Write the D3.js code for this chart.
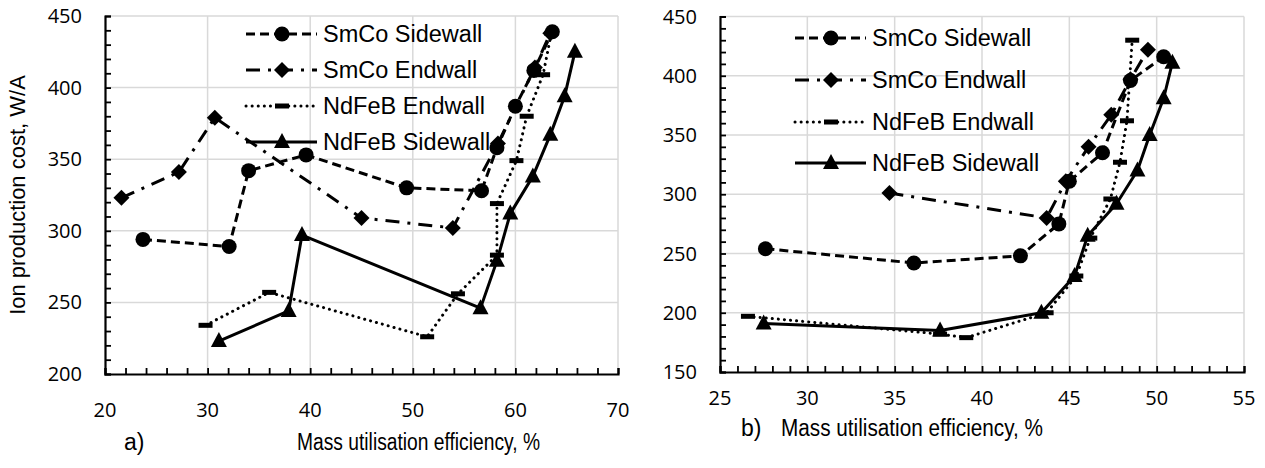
<!DOCTYPE html>
<html><head><meta charset="utf-8">
<script src="https://cdn.jsdelivr.net/npm/d3@7"></script>
<style>body{margin:0;background:#fff}svg{display:block}</style>
</head><body><svg id="c" width="1265" height="468"></svg>
<script>
const seriesNames = ["SmCo Sidewall", "SmCo Endwall", "NdFeB Endwall", "NdFeB Sidewall"];

// Panel a)
const aXTicks = [20, 30, 40, 50, 60, 70];
const aYTicks = [200, 250, 300, 350, 400, 450];
const aSmCoSideX = [23.7, 32.1, 34.0, 39.6, 49.4, 56.7, 58.2, 60.0, 61.8, 63.6];
const aSmCoSideY = [294, 289, 342, 353, 330, 328, 358, 387, 412, 439];
const aSmCoEndX = [21.6, 27.2, 30.7, 45.0, 53.9, 58.3, 61.9, 63.4];
const aSmCoEndY = [323, 341, 379, 309, 302, 361, 414, 438];
const aNdEndX = [29.8, 36.0, 51.4, 54.4, 58.2, 58.2, 60.1, 61.1, 62.7, 63.5];
const aNdEndY = [234, 257, 226, 256, 283, 319, 349, 380, 409, 438];
const aNdSideX = [31.1, 37.9, 39.2, 56.6, 58.2, 59.5, 61.7, 63.4, 64.8, 65.8];
const aNdSideY = [223, 244, 297, 246, 279, 312, 338, 367, 394, 425];

// Panel b)
const bXTicks = [25, 30, 35, 40, 45, 50, 55];
const bYTicks = [150, 200, 250, 300, 350, 400, 450];
const bSmCoSideX = [27.6, 36.1, 42.2, 44.4, 45.0, 46.9, 48.5, 50.4];
const bSmCoSideY = [254, 242, 248, 275, 311, 335, 396, 416];
const bSmCoEndX = [34.7, 43.7, 44.8, 46.1, 47.4, 48.5, 49.5];
const bSmCoEndY = [301, 280, 311, 340, 367, 397, 422];
const bNdEndX = [26.6, 37.6, 39.1, 43.7, 45.4, 46.2, 47.35, 47.9, 48.3, 48.6];
const bNdEndY = [197, 182, 179, 200, 231, 263, 296, 327, 362, 430];
const bNdSideX = [27.5, 37.6, 43.4, 45.3, 46.05, 47.7, 48.9, 49.6, 50.4, 50.9];
const bNdSideY = [191, 185, 200, 231, 265, 292, 320, 350, 381, 411];

const svg = d3.select("#c");
const styles = [
  {dash: "9,5", cap: "butt", marker: "circle"},
  {dash: "14,8,3,8", cap: "butt", marker: "diamond"},
  {dash: "0.1,6", cap: "round", marker: "dash"},
  {dash: null, cap: "butt", marker: "triangle"}
];

function drawMarker(g, type, x, y) {
  if (type === "circle") g.append("circle").attr("cx", x).attr("cy", y).attr("r", 7.5).attr("fill", "#000");
  else if (type === "diamond") g.append("path").attr("d", `M${x},${y-8}L${x+8},${y}L${x},${y+8}L${x-8},${y}Z`).attr("fill", "#000");
  else if (type === "dash") g.append("rect").attr("x", x-7).attr("y", y-2.5).attr("width", 14).attr("height", 5).attr("fill", "#000");
  else if (type === "triangle") g.append("path").attr("d", `M${x},${y-9}L${x+8},${y+6}L${x-8},${y+6}Z`).attr("fill", "#000");
}

function panel(cfg) {
  const x = d3.scaleLinear().domain(cfg.xd).range(cfg.xr);
  const y = d3.scaleLinear().domain(cfg.yd).range(cfg.yr);
  const g = svg.append("g");
  g.append("g").selectAll("line").data(cfg.xTicks.slice(1)).join("line")
    .attr("x1", d => x(d)).attr("x2", d => x(d)).attr("y1", cfg.yr[0]).attr("y2", cfg.yr[1])
    .attr("stroke", "#d9d9d9").attr("stroke-width", 1.5);
  g.append("g").selectAll("line").data(cfg.yTicks.slice(1)).join("line")
    .attr("y1", d => y(d)).attr("y2", d => y(d)).attr("x1", cfg.xr[0]).attr("x2", cfg.xr[1])
    .attr("stroke", "#d9d9d9").attr("stroke-width", 1.5);
  const xMinor = d3.range(cfg.xd[0], cfg.xd[1] + 1e-9, cfg.xMinor);
  const yMinor = d3.range(cfg.yd[0], cfg.yd[1] + 1e-9, cfg.yMinor);
  const xAx = g.append("g").attr("transform", `translate(0,${cfg.yr[0]})`)
    .call(d3.axisTop(x).tickValues(xMinor).tickSize(6).tickFormat(""));
  const yAx = g.append("g").attr("transform", `translate(${cfg.xr[0]},0)`)
    .call(d3.axisRight(y).tickValues(yMinor).tickSize(6).tickFormat(""));
  [xAx, yAx].forEach(a => { a.selectAll("path").attr("stroke", "#000").attr("stroke-width", 2.2);
    a.selectAll("line").attr("stroke", "#000").attr("stroke-width", 1.8); });
  g.append("g").selectAll("text").data(cfg.xTicks).join("text")
    .attr("x", d => x(d)).attr("y", cfg.xLabY).attr("text-anchor", "middle")
    .attr("font-family", "'Open Sans', sans-serif").attr("font-size", 20).text(d => d);
  g.append("g").selectAll("text").data(cfg.yTicks).join("text")
    .attr("x", cfg.xr[0] - 23).attr("y", d => y(d) + 7).attr("text-anchor", "end")
    .attr("font-family", "'Open Sans', sans-serif").attr("font-size", 20).text(d => d);
  cfg.series.forEach((s, i) => {
    const pts = s.xs.map((v, k) => [x(v), y(s.ys[k])]);
    const p = g.append("path").attr("d", d3.line()(pts)).attr("fill", "none")
      .attr("stroke", "#000").attr("stroke-width", 3).attr("stroke-linecap", styles[i].cap)
      .attr("stroke-linejoin", "round");
    if (styles[i].dash) p.attr("stroke-dasharray", styles[i].dash);
    pts.forEach(q => drawMarker(g, styles[i].marker, q[0], q[1]));
  });
  const lg = g.append("g");
  seriesNames.forEach((n, i) => {
    const ly = cfg.legY[i];
    const l = lg.append("line").attr("x1", cfg.legX).attr("x2", cfg.legX + 71).attr("y1", ly).attr("y2", ly)
      .attr("stroke", "#000").attr("stroke-width", 3).attr("stroke-linecap", styles[i].cap);
    if (styles[i].dash) l.attr("stroke-dasharray", styles[i].dash);
    drawMarker(lg, styles[i].marker, cfg.legX + 36, ly);
    lg.append("text").attr("x", cfg.legX + 77).attr("y", ly + 8)
      .attr("font-family", "'Liberation Sans', Arial, sans-serif").attr("font-size", 23.5).text(n);
  });
  g.append("text").attr("x", cfg.tagX).attr("y", cfg.titleY).attr("font-family", "'Liberation Sans', Arial, sans-serif")
    .attr("font-size", 23).text(cfg.tag);
  g.append("text").attr("x", cfg.titleX).attr("y", cfg.titleY).attr("font-family", "'Liberation Sans', Arial, sans-serif")
    .attr("font-size", 23).attr("textLength", cfg.titleW).attr("lengthAdjust", "spacingAndGlyphs")
    .text("Mass utilisation efficiency, %");
}

panel({xd: [20, 70], xr: [105, 618], yd: [200, 450], yr: [374, 16], xTicks: aXTicks, yTicks: aYTicks,
  xMinor: 2, yMinor: 10, xLabY: 417,
  series: [{xs: aSmCoSideX, ys: aSmCoSideY}, {xs: aSmCoEndX, ys: aSmCoEndY}, {xs: aNdEndX, ys: aNdEndY}, {xs: aNdSideX, ys: aNdSideY}],
  legX: 246, legY: [34, 70, 106, 142], tag: "a)", tagX: 124, titleX: 297, titleW: 243, titleY: 450});

panel({xd: [25, 55], xr: [720, 1244], yd: [150, 450], yr: [372, 16.5], xTicks: bXTicks, yTicks: bYTicks,
  xMinor: 1, yMinor: 10, xLabY: 405,
  series: [{xs: bSmCoSideX, ys: bSmCoSideY}, {xs: bSmCoEndX, ys: bSmCoEndY}, {xs: bNdEndX, ys: bNdEndY}, {xs: bNdSideX, ys: bNdSideY}],
  legX: 795, legY: [38, 80, 122, 163], tag: "b)", tagX: 741, titleX: 781, titleW: 262, titleY: 436});

svg.append("text").attr("transform", "translate(25,195) rotate(-90)").attr("text-anchor", "middle")
  .attr("font-family", "'Liberation Sans', Arial, sans-serif").attr("font-size", 22).text("Ion production cost, W/A");
</script></body></html>
